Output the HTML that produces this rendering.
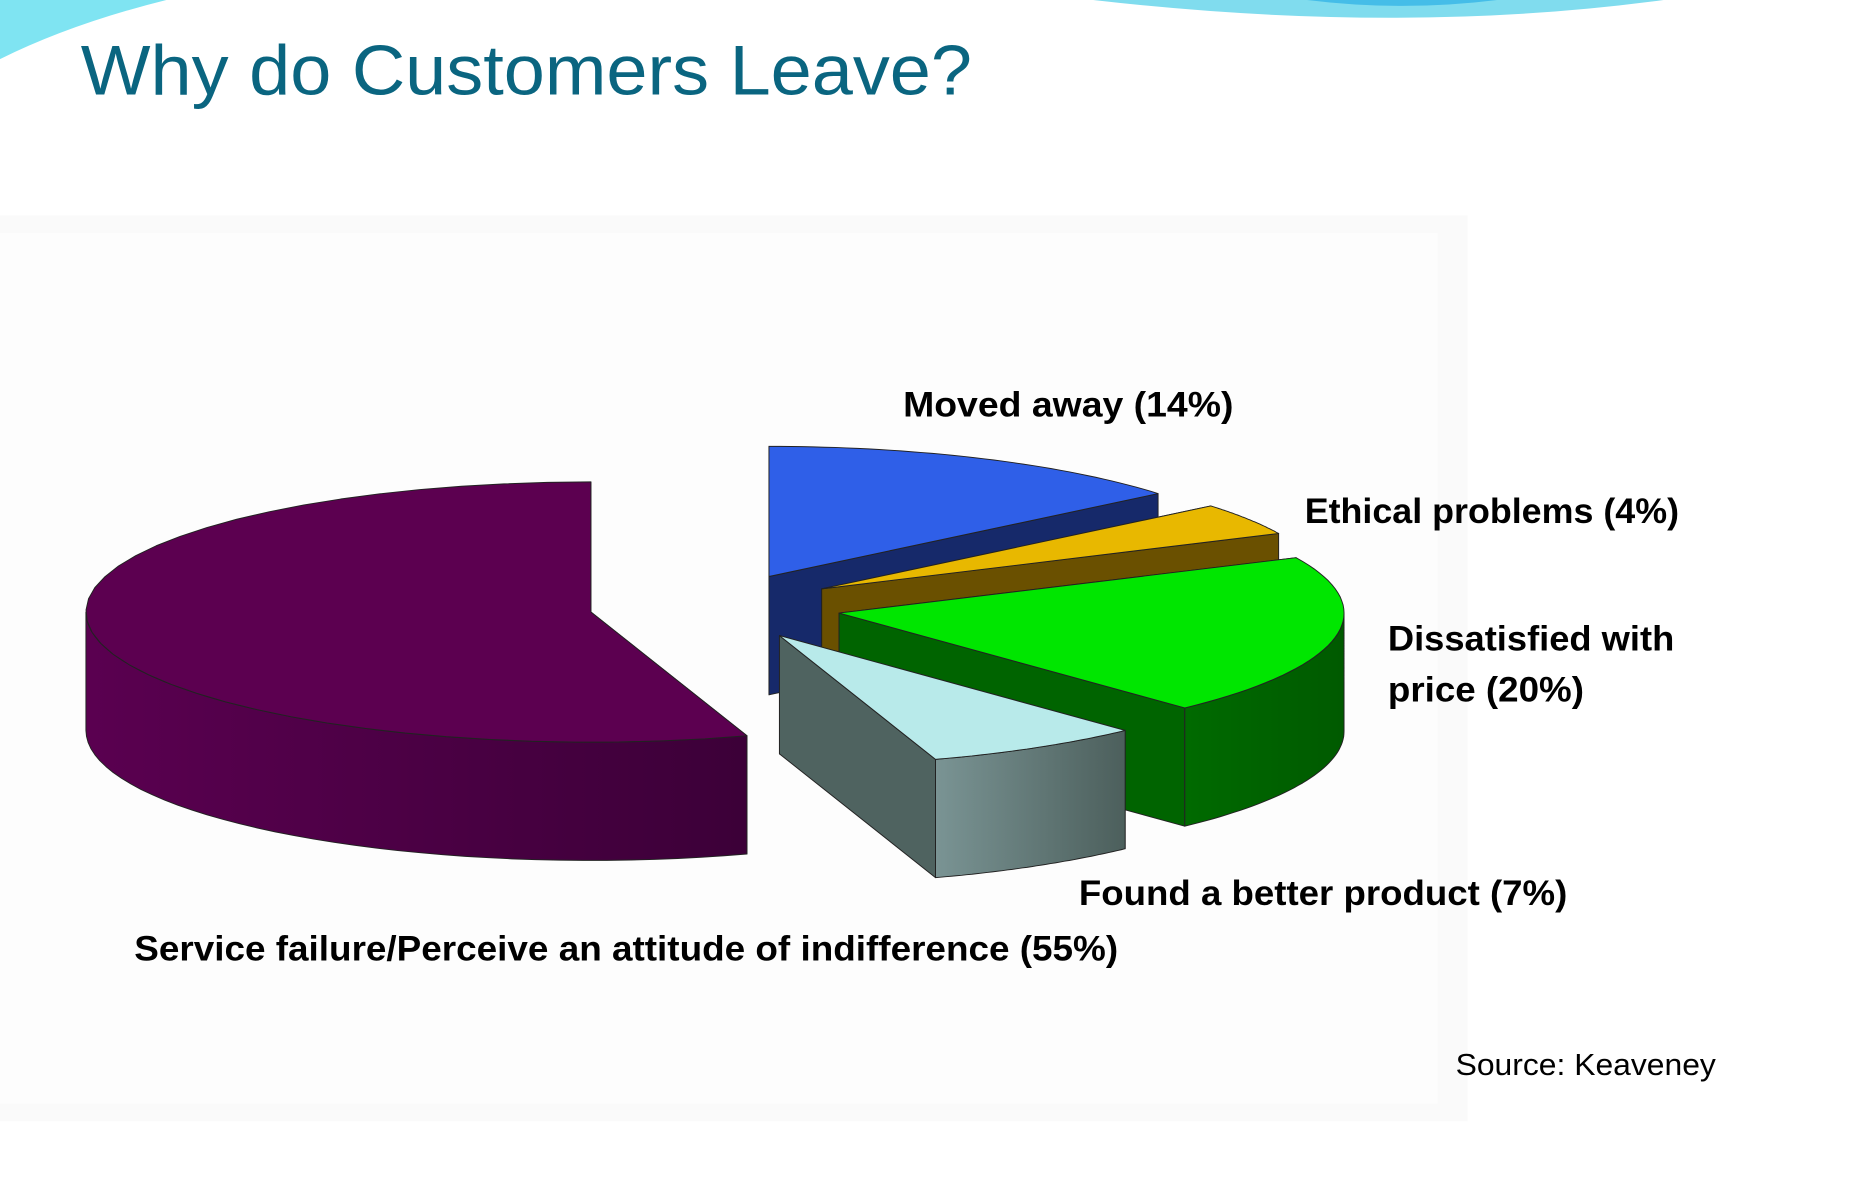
<!DOCTYPE html>
<html><head><meta charset="utf-8"><style>
html,body{margin:0;padding:0;background:#fff;}
svg{display:block;}
text{font-family:"Liberation Sans",sans-serif;}
</style></head><body>
<svg id="chart" width="1862" height="1184" viewBox="0 0 1567 1001" preserveAspectRatio="none" xmlns="http://www.w3.org/2000/svg">
<defs>
<linearGradient id="gPurple" x1="0" x2="1" y1="0" y2="0"><stop offset="0" stop-color="#5a0050"/><stop offset="1" stop-color="#3c0038"/></linearGradient>
<linearGradient id="gFound" x1="0" x2="1" y1="0" y2="0"><stop offset="0" stop-color="#7a9494"/><stop offset="1" stop-color="#4c5f5c"/></linearGradient>
<linearGradient id="gGreen" x1="0" x2="1"><stop offset="0" stop-color="#006a00"/><stop offset="1" stop-color="#005a00"/></linearGradient>
</defs>
<rect x="0" y="0" width="1567" height="1001" fill="#fff"/>
<path d="M0 0 L140 0 Q60 20 0 50 Z" fill="#7fe4f2"/>
<path d="M920 0 Q1180 30 1400 0 Z" fill="#80dcee"/>
<path d="M1100 0 Q1180 10 1260 0 Z" fill="#45bde8"/>
<rect x="0" y="182" width="1235" height="766" fill="#fafafa"/>
<rect x="0" y="197" width="1210" height="736" fill="#fdfdfd"/>
<text x="68" y="80" font-size="60" fill="#0a6580" textLength="750" lengthAdjust="spacingAndGlyphs">Why do Customers Leave?</text>
<g id="pie"></g>
<g font-weight="bold" font-size="30" fill="#000">
<text x="760" y="352" textLength="278" lengthAdjust="spacingAndGlyphs">Moved away (14%)</text>
<text x="1098" y="442" textLength="315" lengthAdjust="spacingAndGlyphs">Ethical problems (4%)</text>
<text x="1168" y="550" textLength="241" lengthAdjust="spacingAndGlyphs">Dissatisfied with</text>
<text x="1168" y="593" textLength="165" lengthAdjust="spacingAndGlyphs">price (20%)</text>
<text x="908" y="765" textLength="411" lengthAdjust="spacingAndGlyphs">Found a better product (7%)</text>
<text x="113" y="812" textLength="828" lengthAdjust="spacingAndGlyphs">Service failure/Perceive an attitude of indifference (55%)</text>
</g>
<text x="1225" y="909" font-size="26" fill="#000" textLength="219" lengthAdjust="spacingAndGlyphs">Source: Keaveney</text>
</svg>
<script>
const categories = ["Moved away", "Ethical problems", "Dissatisfied with price", "Found a better product", "Service failure"];
const values = [14, 4, 20, 7, 55];
const topColors = ["#2f5fe8", "#e8b800", "#00e600", "#b8eaea", "#5c0050"];
const wallColors = ["#1a2d70", "#6a5000", "url(#gGreen)", "url(#gFound)", "url(#gPurple)"];
const radialColors = ["#16296a", "#6a5000", "#006400", "#4f6360", "#3e0038"];

const NS = "http://www.w3.org/2000/svg";
const g = document.getElementById("pie");
const cx = 602, cy = 513, rx = 425, ry = 110, depth = 100, D = 106, ys = 0.267;
const total = values.reduce((a, b) => a + b, 0);
const rad = d => d * Math.PI / 180;
let ang = -90;
const slices = values.map((v, i) => {
  const a0 = ang, a1 = ang + v / total * 360; ang = a1;
  const mid = rad((a0 + a1) / 2);
  const vx = cx + D * Math.cos(mid), vy = cy + D * ys * Math.sin(mid);
  return { i, a0, a1, vx, vy };
});
function pt(s, a) { return [s.vx + rx * Math.cos(rad(a)), s.vy + ry * Math.sin(rad(a))]; }
function mk(d, fill, name) {
  const p = document.createElementNS(NS, "path");
  p.setAttribute("d", d);
  p.setAttribute("fill", fill);
  p.setAttribute("stroke", "#222");
  p.setAttribute("stroke-width", "0.8");
  p.setAttribute("stroke-linejoin", "round");
  
  
  g.appendChild(p);
}
function arcPath(s, a0, a1, dy) {
  let d = "", n = 40;
  for (let k = 0; k <= n; k++) {
    const a = a0 + (a1 - a0) * k / n; const p = pt(s, a);
    d += (k ? " L" : "M") + p[0].toFixed(1) + " " + (p[1] + dy).toFixed(1);
  }
  return d;
}
const order = [0, 1, 2, 4, 3];
order.forEach(idx => {
  const s = slices[idx];
  const slug = categories[idx].toLowerCase().replace(/[^a-z]+/g, "-");
  [s.a0, s.a1].forEach((a, k) => {
    const p = pt(s, a);
    const d = `M${s.vx} ${s.vy} L${p[0]} ${p[1]} L${p[0]} ${p[1] + depth} L${s.vx} ${s.vy + depth} Z`;
    mk(d, radialColors[idx], "slice-" + slug + "-side-" + k);
  });
  const lo = Math.max(s.a0, 0), hi = Math.min(s.a1, 180);
  if (hi > lo) {
    let d = arcPath(s, lo, hi, 0);
    const back = arcPath(s, hi, lo, depth).replace("M", " L");
    mk(d + back + " Z", wallColors[idx], "slice-" + slug + "-wall");
  }
  const p0 = pt(s, s.a0);
  const d = `M${s.vx} ${s.vy} L${p0[0]} ${p0[1]}` + arcPath(s, s.a0, s.a1, 0).replace("M", " L") + " Z";
  mk(d, topColors[idx], "slice-" + slug);
});
</script>
</body></html>
